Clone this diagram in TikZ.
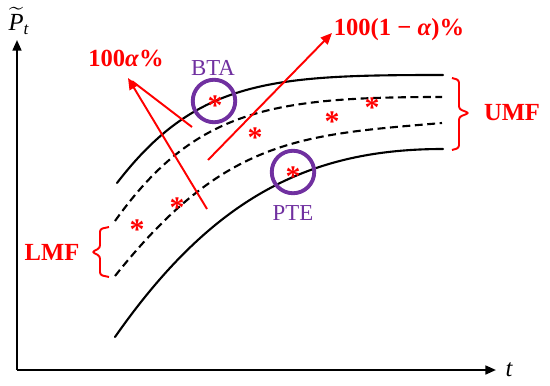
\documentclass[tikz,border=0pt]{standalone}
\usepackage{amsmath}
\usepackage{fontspec}
\setmainfont{Liberation Serif}
\usetikzlibrary{arrows.meta}
\definecolor{bpurple}{HTML}{7030A0}
\definecolor{bred}{RGB}{255,0,0}
\begin{document}
\begin{tikzpicture}[x=0.02cm,y=-0.02cm,
  curve/.style={line width=1.2pt,line cap=round},
  dcurve/.style={line width=1.2pt,dash pattern=on 4.5pt off 2.6pt},
  axisline/.style={line width=1.2pt,-{Triangle[length=6pt,width=5pt]}},
  redline/.style={bred,line width=1.1pt},
  redarrow/.style={bred,line width=1.1pt,-{Triangle[length=6.5pt,width=5.5pt]}},
  brace/.style={bred,line width=1.1pt,rounded corners=1.5pt},
  starmark/.style={bred,inner sep=0pt,text height=0pt,text depth=0pt,font=\fontsize{17}{17}\selectfont\bfseries},
  ring/.style={draw=bpurple,line width=2.2pt,circle,inner sep=0pt,minimum size=0.85cm},
  purplelabel/.style={bpurple,font=\fontsize{13}{15}\selectfont,inner sep=0pt},
  redlabel/.style={bred,font=\fontsize{14}{16}\selectfont\bfseries,inner sep=0pt},
]
\useasboundingbox (0,0) rectangle (550,385);

% axes
\coordinate (O) at (17,370);
\coordinate (ytop) at (17,40);
\coordinate (xend) at (496,370);
\draw[axisline] (O) -- (ytop);
\draw[axisline] (O) -- (xend);
\node[inner sep=0pt,font=\fontsize{14}{16}\selectfont] (ylab) at (19,21) {$\widetilde{\text{\itshape P}}_{\text{\itshape t}}$};
\node[inner sep=0pt,font=\fontsize{14}{16}\selectfont\itshape] (xlab) at (509,370) {t};

% curves
\draw[curve] (117,183) .. controls (197,79) and (273,75) .. (443,75);
\draw[dcurve] (115,221) .. controls (195,109) and (272,97) .. (442,97);
\draw[dcurve] (115,276) .. controls (225,138) and (300,135) .. (442,123);
\draw[curve] (115,337) .. controls (215,194) and (313,149) .. (443,149);

% stars
\node[starmark] (s1) at (137,225) {\raisebox{-0.48em}{*}};
\node[starmark] (s2) at (177,203) {\raisebox{-0.48em}{*}};
\node[starmark] (s3) at (215,101) {\raisebox{-0.48em}{*}};
\node[starmark] (s4) at (255,133) {\raisebox{-0.48em}{*}};
\node[starmark] (s5) at (293,172) {\raisebox{-0.48em}{*}};
\node[starmark] (s6) at (332,117) {\raisebox{-0.48em}{*}};
\node[starmark] (s7) at (372,103) {\raisebox{-0.48em}{*}};

% circles
\node[ring] (bta) at (214,101) {};
\node[ring] (pte) at (293,172) {};
\node[purplelabel] (btalab) at (213,68) {BTA};
\node[purplelabel] (ptelab) at (293,213) {PTE};

% alpha arrows
\coordinate (atip) at (128,78);
\coordinate (a1) at (192,127);
\coordinate (a2) at (207,209);
\draw[redarrow] (a2) -- (atip);
\draw[redline,shorten >=3pt] (a1) -- (atip);
\node[redlabel] (alab) at (126,58) {100\textit{α}\%};

\coordinate (b1) at (208,160);
\coordinate (btip) at (332,33);
\draw[redarrow] (b1) -- (btip);
\node[redlabel] (blab) at (399,30) {100(1 − \textit{α})\%};

% braces
\draw[brace] (109,227) -- (100,229) -- (100,248) -- (92,252) -- (100,256) -- (100,275) -- (109,277);
\node[redlabel] (lmf) at (52,252) {LMF};
\draw[brace] (452,78) -- (459,80) -- (459,109) -- (469,113) -- (459,117) -- (459,148) -- (452,150);
\node[redlabel] (umf) at (512,113) {UMF};
\end{tikzpicture}
\end{document}
